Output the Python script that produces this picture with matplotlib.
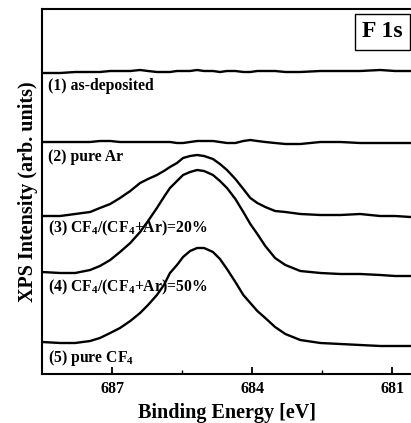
import numpy as np
import matplotlib
matplotlib.use('Agg')
import matplotlib.pyplot as plt

plt.rcParams['font.family'] = 'Liberation Serif'
plt.rcParams['font.weight'] = 'bold'
plt.rcParams['mathtext.fontset'] = 'custom'
plt.rcParams['mathtext.rm'] = 'Liberation Serif:bold'
plt.rcParams['mathtext.default'] = 'rm'

# binding energy (eV)
energy = [688.50, 688.11, 687.79, 687.47, 687.26, 687.04, 686.83, 686.61, 686.40,
          686.23, 686.04, 685.89, 685.76, 685.61, 685.48, 685.33, 685.18, 685.03,
          684.84, 684.69, 684.54, 684.36, 684.19, 684.04, 683.89, 683.72, 683.51,
          683.29, 682.97, 682.54, 682.11, 681.69, 681.26, 680.94, 680.61]

# stacked intensities (arb. units, offsets included)
as_deposited = [301, 301, 302, 302, 302, 303, 303, 303, 304, 303, 302, 302, 302, 303, 303,
                303, 304, 303, 303, 302, 303, 303, 302, 302, 303, 303, 303, 302, 302, 303,
                303, 303, 304, 303, 303]
pure_ar = [232, 232, 232, 232, 233, 233, 232, 232, 232, 232, 232, 232, 232, 231, 231,
           232, 233, 233, 233, 232, 231, 231, 233, 234, 233, 232, 231, 230, 230, 232,
           232, 231, 231, 231, 231]
cf4_20 = [158, 158, 160, 162, 166, 170, 176, 183, 191, 195, 199, 203, 207, 211, 216,
          218, 219, 218, 215, 210, 204, 195, 185, 176, 171, 167, 163, 162, 160, 159,
          159, 160, 158, 158, 157]
cf4_50 = [102, 101, 101, 104, 108, 114, 122, 131, 142, 153, 166, 177, 186, 193, 199,
          202, 204, 203, 199, 193, 186, 175, 162, 150, 140, 128, 116, 109, 103, 101,
          100, 100, 99, 98, 98]
pure_cf4 = [32, 31, 31, 33, 36, 41, 46, 53, 61, 69, 79, 89, 101, 109, 117,
            123, 126, 126, 122, 115, 105, 92, 79, 71, 63, 56, 47, 40, 34, 31,
            30, 29, 28, 28, 28]

labels = ['(1) as-deposited', '(2) pure Ar',
          r'(3) CF$_4$/(CF$_4$+Ar)=20%', r'(4) CF$_4$/(CF$_4$+Ar)=50%',
          r'(5) pure CF$_4$']
label_y = [288, 217, 146, 87, 16]

fig = plt.figure(figsize=(4.11, 4.23), dpi=100)
ax = fig.add_axes([42/411, 49/423, 369/411, 365/423])

for yy in [as_deposited, pure_ar, cf4_20, cf4_50, pure_cf4]:
    ax.plot(energy, yy, color='k', lw=1.7, solid_joinstyle='round')

for lab, ly in zip(labels, label_y):
    ax.text(688.37, ly, lab, fontsize=11.3, fontweight='bold', va='center', ha='left')

ax.text(0.922, 0.937, 'F 1s', transform=ax.transAxes, fontsize=17, fontweight='bold',
        ha='center', va='center',
        bbox=dict(boxstyle='square,pad=0.3', fc='white', ec='k', lw=1.0))

ax.set_xlim(688.5, 680.6)
ax.set_ylim(0, 365)
ax.set_xticks([687, 684, 681])
ax.set_xticks([685.5, 682.5], minor=True)
ax.set_yticks([])
ax.tick_params(axis='x', which='major', direction='in', length=5, width=1.3,
               labelsize=11.5, pad=5, top=False)
ax.tick_params(axis='x', which='minor', direction='in', length=3, width=1.0, top=False)
for lab in ax.get_xticklabels():
    lab.set_fontweight('bold')
for s in ['left', 'bottom', 'top']:
    ax.spines[s].set_linewidth(1.5)
ax.spines['right'].set_visible(False)

ax.set_xlabel('Binding Energy [eV]', fontsize=14.5, fontweight='bold', labelpad=4)
ax.set_ylabel('XPS Intensity (arb. units)', fontsize=14.5, fontweight='bold', labelpad=3)

fig.savefig('out.png', dpi=100)
